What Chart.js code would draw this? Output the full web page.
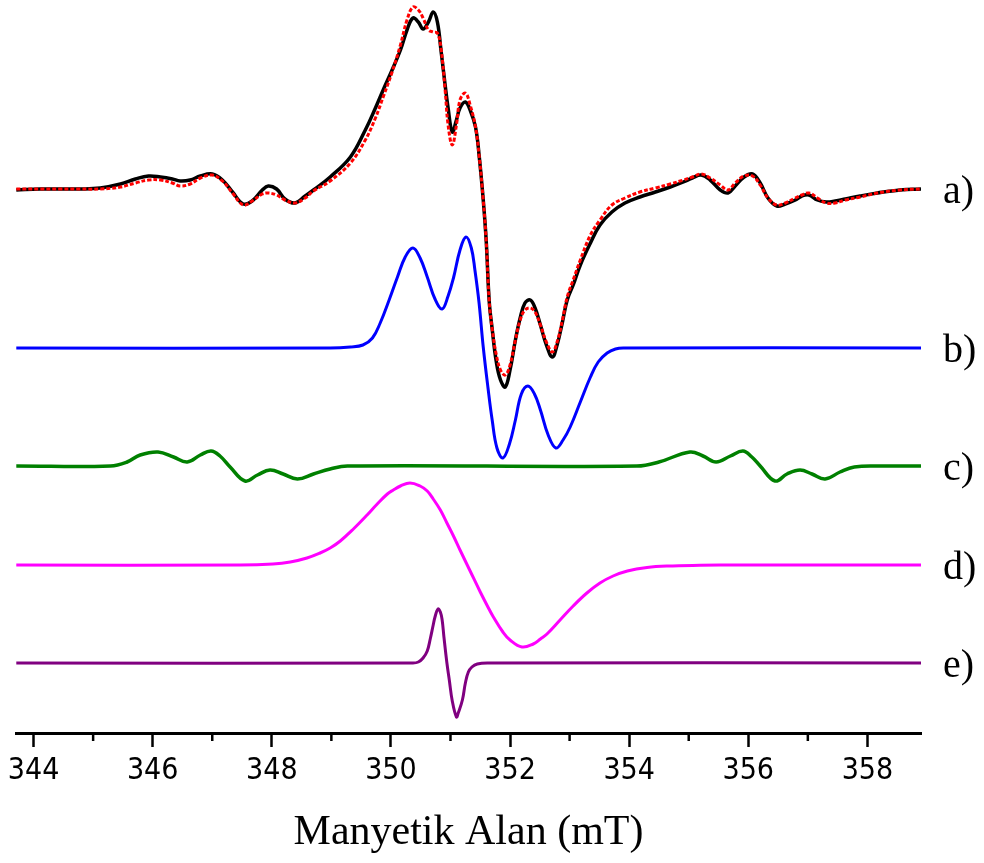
<!DOCTYPE html>
<html>
<head>
<meta charset="utf-8">
<script src="https://cdn.jsdelivr.net/npm/chart.js@4.4.1/dist/chart.umd.min.js"></script>
<style>
body { margin: 0; background: #fff; }
</style>
</head>
<body>
<canvas id="epr" width="984" height="863"></canvas>
<script>
// magnetic field (mT) and intensities (arbitrary units, baseline = 0)
var fieldA = [343.71, 344.11, 344.45, 344.78, 345.12, 345.46, 345.71, 345.93, 346.13, 346.33,
  346.46, 346.63, 346.80, 347.00, 347.17, 347.34, 347.52, 347.67, 347.84, 347.94,
  348.08, 348.22, 348.39, 348.56, 348.70, 348.98, 349.32, 349.57, 349.74, 349.87,
  350.02, 350.16, 350.27, 350.37, 350.46, 350.54, 350.63, 350.71, 350.78, 350.84,
  350.91, 350.96, 351.03, 351.10, 351.16, 351.25, 351.33, 351.42, 351.48, 351.55,
  351.60, 351.65, 351.70, 351.77, 351.84, 351.92, 352.00, 352.09, 352.17, 352.25,
  352.34, 352.42, 352.51, 352.61, 352.71, 352.79, 352.88, 352.96, 353.06, 353.18,
  353.35, 353.51, 353.71, 353.93, 354.18, 354.44, 354.69, 354.91, 355.06, 355.21,
  355.36, 355.53, 355.66, 355.78, 355.93, 356.07, 356.20, 356.33, 356.48, 356.62,
  356.79, 356.90, 357.02, 357.16, 357.31, 357.46, 357.63, 357.88, 358.17, 358.55,
  358.90]
// a) experimental (black)
var expA = [-1, 0, 0, 0, 1, 5, 10, 13, 12, 10,
  8, 9, 13, 15, 9, -3, -15, -12, -1, 3,
  0, -10, -14, -7, -1, 12, 32, 59, 81, 99,
  119, 139, 159, 171, 167, 160, 167, 177, 167, 139,
  104, 81, 57, 69, 81, 87, 79, 62, 34, -11,
  -52, -112, -140, -173, -191, -198, -181, -151, -129, -114,
  -111, -119, -136, -156, -168, -156, -133, -111, -96, -76,
  -54, -36, -23, -14, -8, -3, 2, 7, 11, 14,
  9, -1, -4, 3, 12, 15, 6, -9, -17, -15,
  -11, -7, -6, -11, -13, -12, -10, -7, -4, -1,
  0]
// a) simulated (red dotted)
var simA = [0, 0, 0, 0, 0, 2, 6, 9, 9, 6,
  3, 5, 11, 14, 8, -4, -16, -12, -5, -4,
  -6, -11, -14, -9, -2, 8, 26, 49, 71, 92,
  117, 144, 169, 182, 179, 171, 159, 157, 156, 141,
  99, 64, 44, 64, 89, 96, 84, 62, 34, -11,
  -52, -112, -140, -166, -181, -186, -176, -151, -131, -121,
  -119, -123, -136, -153, -163, -153, -131, -108, -91, -71,
  -46, -31, -16, -9, -3, 1, 5, 9, 12, 15,
  11, 4, -1, 6, 13, 13, 4, -9, -16, -14,
  -9, -6, -4, -9, -14, -14, -11, -8, -4, -1,
  0]

var fieldB = [343.71, 348.98, 349.32, 349.53, 349.69, 349.82, 349.97, 350.11, 350.24, 350.37,
  350.49, 350.61, 350.74, 350.86, 350.96, 351.05, 351.16, 351.26, 351.35, 351.41,
  351.48, 351.55, 351.63, 351.70, 351.78, 351.88, 351.99, 352.09, 352.19, 352.30,
  352.41, 352.51, 352.64, 352.77, 352.89, 353.01, 353.18, 353.35, 353.48, 353.63,
  353.77, 353.90, 358.90]
var valB = [0, 0, 1, 3, 10, 25, 48, 71, 91, 100,
  90, 71, 49, 39, 52, 70, 98, 111, 100, 78,
  45, 1, -40, -72, -100, -110, -96, -72, -46, -38,
  -46, -62, -87, -100, -92, -79, -54, -29, -14, -5,
  -1, 0, 0]

var fieldC = [343.71, 345.29, 345.57, 345.79, 346.09, 346.35, 346.58, 346.80, 346.98, 347.13,
  347.30, 347.55, 347.76, 347.97, 348.19, 348.43, 348.70, 348.98, 349.27, 354.13,
  354.50, 355.02, 355.24, 355.46, 355.70, 355.91, 356.06, 356.20, 356.45, 356.65,
  356.87, 357.07, 357.29, 357.54, 357.78, 358.20, 358.90]
var valC = [0, 0, 4, 11, 14, 9, 4, 11, 15, 10,
  -1, -15, -9, -4, -8, -13, -8, -3, 0, 0,
  4, 14, 10, 4, 10, 15, 9, 0, -15, -8,
  -4, -8, -13, -6, -1, 0, 0]

var fieldD = [343.71, 347.47, 348.02, 348.31, 348.59, 348.81, 348.98, 349.15, 349.37, 349.60,
  349.77, 349.94, 350.04, 350.16, 350.32, 350.49, 350.61, 350.71, 350.83, 350.94,
  351.05, 351.16, 351.33, 351.50, 351.62, 351.72, 351.88, 352.00, 352.20, 352.39,
  352.51, 352.62, 352.84, 353.06, 353.29, 353.51, 353.73, 353.97, 354.30, 354.64,
  355.19, 355.86, 358.90]
var valD = [0, 0, 1, 3, 7, 12, 17, 24, 36, 50,
  61, 71, 75, 79, 82, 79, 74, 66, 55, 42,
  29, 15, -6, -27, -41, -52, -67, -75, -82, -79,
  -74, -69, -55, -41, -28, -18, -11, -6, -2.5, -1,
  -0.3, 0, 0]

var fieldE = [343.71, 350.37, 350.46, 350.54, 350.61, 350.66, 350.71, 350.74, 350.79, 350.83,
  350.86, 350.89, 350.94, 350.98, 351.03, 351.10, 351.13, 351.20, 351.25, 351.30,
  351.36, 351.45, 351.62, 358.90]
var valE = [0, 0, 1, 5, 12, 24, 38, 46, 54, 51,
  43, 26, 0, -17, -38, -54, -50, -37, -20, -9,
  -4, -1, 0, 0]

var majorTicks = [344, 346, 348, 350, 352, 354, 356, 358]
var minorTicks = [345, 347, 349, 351, 353, 355, 357]
var curveLabels = ['a)', 'b)', 'c)', 'd)', 'e)']

// vertical stacking of the spectra
var stackOffset = [544, 385, 267, 168, 70]

function pts(xs, ys, off) {
  return xs.map(function (x, i) { return { x: x, y: ys[i] + off } })
}

function line(data, color, width, dash) {
  return {
    data: data,
    borderColor: color,
    borderWidth: width,
    borderDash: dash || [],
    pointRadius: 0,
    fill: false,
    tension: 0.4
  }
}

var extras = {
  id: 'extras',
  afterDraw: function (chart) {
    var ctx = chart.ctx
    var xs = chart.scales.x
    var ys = chart.scales.y
    ctx.save()
    ctx.strokeStyle = '#000'
    ctx.lineWidth = 2.5
    minorTicks.forEach(function (v) {
      var px = xs.getPixelForValue(v)
      ctx.beginPath()
      ctx.moveTo(px, xs.top + 1.5)
      ctx.lineTo(px, xs.top + 8)
      ctx.stroke()
    })
    ctx.fillStyle = '#000'
    ctx.font = '40px "Liberation Serif", serif'
    ctx.textAlign = 'left'
    ctx.textBaseline = 'middle'
    curveLabels.forEach(function (t, i) {
      ctx.fillText(t, chart.chartArea.right + 22, ys.getPixelForValue(stackOffset[i]) + 3)
    })
    ctx.restore()
  }
}

var chart = new Chart(document.getElementById('epr'), {
  type: 'line',
  data: {
    datasets: [
      line(pts(fieldA, simA, stackOffset[0]), '#ff0000', 3, [4, 2]),
      line(pts(fieldA, expA, stackOffset[0]), '#000000', 3.5),
      line(pts(fieldB, valB, stackOffset[1]), '#0000ff', 3),
      line(pts(fieldC, valC, stackOffset[2]), '#008000', 3.5),
      line(pts(fieldD, valD, stackOffset[3]), '#ff00ff', 3),
      line(pts(fieldE, valE, stackOffset[4]), '#800080', 3)
    ]
  },
  options: {
    responsive: false,
    devicePixelRatio: 1,
    animation: false,
    layout: { padding: { left: 16, right: 63, top: 0, bottom: 0 } },
    plugins: { legend: { display: false }, tooltip: { enabled: false } },
    scales: {
      x: {
        type: 'linear',
        min: 343.705,
        max: 358.9,
        afterBuildTicks: function (scale) {
          scale.ticks = majorTicks.map(function (v) { return { value: v } })
        },
        afterFit: function (scale) { scale.height = 130 },
        grid: { drawOnChartArea: false, tickLength: 14, tickWidth: 2.5, tickColor: '#000' },
        border: { display: true, color: '#000', width: 3 },
        ticks: {
          color: '#000',
          padding: 6,
          maxRotation: 0,
          font: { family: '"Liberation Sans Narrow", "DejaVu Sans Condensed", sans-serif', size: 30 },
          callback: function (v) { return String(v) }
        },
        title: {
          display: true,
          text: 'Manyetik Alan (mT)',
          color: '#000',
          font: { family: '"Liberation Serif", serif', size: 42 },
          padding: { top: 0, bottom: 5 }
        }
      },
      y: { display: false, min: 0, max: 733 }
    }
  },
  plugins: [extras]
})
</script>
</body>
</html>
